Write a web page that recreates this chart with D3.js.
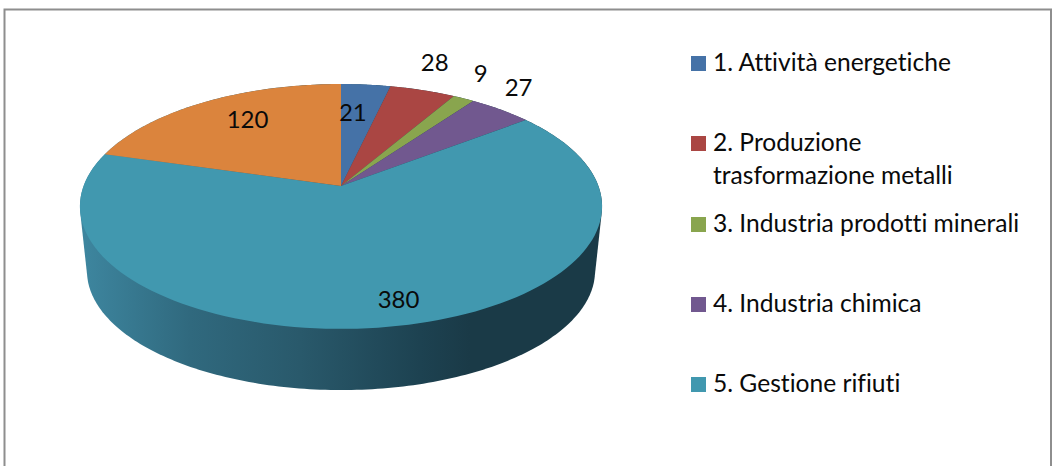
<!DOCTYPE html>
<html><head><meta charset="utf-8">
<script src="https://cdn.jsdelivr.net/npm/d3@7"></script>
<style>html,body{margin:0;padding:0;background:#fff}svg{display:block}text{font-family:Lato,"Open Sans",sans-serif;fill:#0a0a0a;font-variant-ligatures:none}</style>
</head><body><svg id="c" width="1053" height="466"></svg>
<script>
const categories=["1. Attività energetiche","2. Produzione trasformazione metalli","3. Industria prodotti minerali","4. Industria chimica","5. Gestione rifiuti","6"];
const values=[21,28,9,27,380,120];
const colors=["#4572A7","#AA4643","#89A54E","#71588F","#4198AF","#DB843D"];
const legendLines=[["1. Attività energetiche"],["2. Produzione","trasformazione metalli"],["3. Industria prodotti minerali"],["4. Industria chimica"],["5. Gestione rifiuti"]];
const legendBaselines=[71,151,232,312,392];
const labelNudges=[[-13,27],[12,-29],[17,-26],[18,-23],[0,-27],[43,16]];
const sideStops=[[85,"#3d859e"],[190,"#30697e"],[300,"#29596b"],[420,"#1d4251"],[470,"#1a3a47"],[600,"#1a3a47"]];

const W=1053,H=466,FS=24,LFS=24.6,cx=341,cy=186,A=257.4,B=119,q=0.167,depth=64.5,shrink=0.973,topMid=206.5;
const svg=d3.select("#c");
const project=(a,r=1)=>{const u=r*Math.sin(a),v=r*Math.cos(a),d=1+q*v;return [cx+A*u/d,cy-B*v/d];};
const projectBottom=a=>{const [x,y]=project(a);return [cx+(x-cx)*shrink,topMid+(y-topMid)*shrink+depth];};

svg.append("path").attr("d",d3.line()([[4.5,H],[4.5,9.5],[1051,9.5],[1051,H]])).attr("fill","none").attr("stroke","#8e8e8e").attr("stroke-width",2);

const defs=svg.append("defs");
const grad=defs.append("linearGradient").attr("id","side").attr("gradientUnits","userSpaceOnUse").attr("x1",sideStops[0][0]).attr("x2",sideStops[sideStops.length-1][0]).attr("y1",0).attr("y2",0);
const x0=sideStops[0][0],x1=sideStops[sideStops.length-1][0];
grad.selectAll("stop").data(sideStops).join("stop").attr("offset",d=>(d[0]-x0)/(x1-x0)).attr("stop-color",d=>d[1]);

const arcs=d3.pie().sort(null)(values);
const sampled=(a0,a1,n=120)=>d3.range(0,n+1).map(i=>a0+(a1-a0)*i/n);

// side wall: silhouette of the extruded disk
const rim=sampled(0,Math.PI*2,360);
svg.append("path").attr("d",d3.line()(d3.polygonHull(rim.map(a=>project(a)).concat(rim.map(projectBottom))))+"Z").attr("fill","url(#side)");

// top faces
svg.append("g").selectAll("path").data(arcs).join("path")
 .attr("d",d=>d3.line()([[cx,cy],...sampled(d.startAngle,d.endAngle).map(a=>project(a))])+"Z")
 .attr("fill",(d,i)=>colors[i]);

// value labels
svg.append("g").selectAll("text").data(arcs).join("text")
 .attr("x",(d,i)=>project((d.startAngle+d.endAngle)/2)[0]+labelNudges[i][0])
 .attr("y",(d,i)=>project((d.startAngle+d.endAngle)/2)[1]+labelNudges[i][1])
 .attr("text-anchor","middle").attr("dominant-baseline","central").attr("font-size",FS).text(d=>d.value);

// legend
const lg=svg.append("g").selectAll("g").data(legendLines).join("g");
lg.append("rect").attr("x",691).attr("y",(d,i)=>legendBaselines[i]-15).attr("width",15).attr("height",15).attr("fill",(d,i)=>colors[i]);
lg.each(function(lines,i){d3.select(this).selectAll("text").data(lines).join("text").attr("x",713).attr("y",(d,j)=>legendBaselines[i]+j*33).attr("font-size",LFS).text(d=>d);});
</script></body></html>
